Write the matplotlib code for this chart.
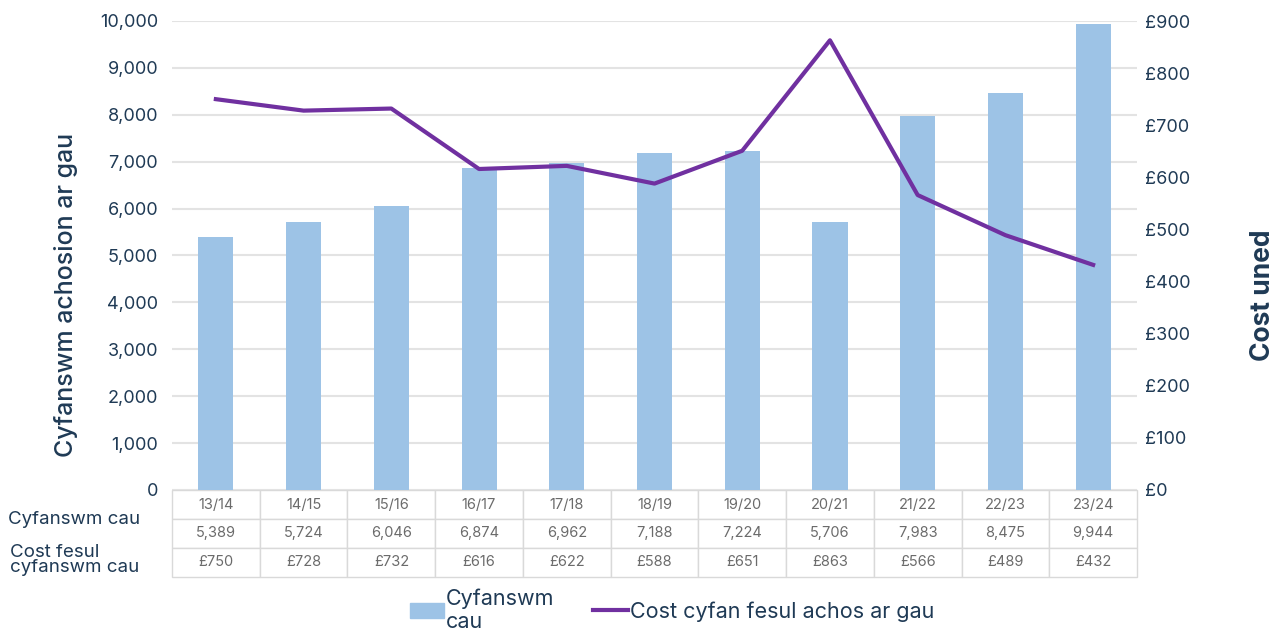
import matplotlib.pyplot as plt
from matplotlib.patches import Patch
from matplotlib.lines import Line2D

plt.rcParams['font.family'] = ['Inter', 'DejaVu Sans']

years = ['13/14', '14/15', '15/16', '16/17', '17/18', '18/19', '19/20',
         '20/21', '21/22', '22/23', '23/24']
total_closed = [5389, 5724, 6046, 6874, 6962, 7188, 7224, 5706, 7983, 8475, 9944]
unit_cost = [750, 728, 732, 616, 622, 588, 651, 863, 566, 489, 432]

navy = '#1f3a55'
bar_col = '#9dc3e6'
line_col = '#7030a0'

fig = plt.figure(figsize=(12.83, 6.36), dpi=100)
ax = fig.add_axes([172 / 1283, 1 - 490 / 636, (1137 - 172) / 1283, (490 - 21) / 636])
x = list(range(len(years)))

ax.bar(x, total_closed, width=0.4, color=bar_col, zorder=2)
ax.set_xlim(-0.5, len(years) - 0.5)
ax.set_ylim(0, 10000)
ax.set_yticks(range(0, 10001, 1000))
ax.set_yticklabels([f'{v:,}' for v in range(0, 10001, 1000)])
ax.set_xticks([])
ax.grid(axis='y', color='#e3e3e3', linewidth=1.5, zorder=0)
for s in ax.spines.values():
    s.set_visible(False)
ax.tick_params(axis='y', length=0, pad=10, labelsize=13, labelcolor=navy)
ax.set_ylabel('Cyfanswm achosion ar gau', fontsize=18, color=navy, fontweight='medium')
ax.yaxis.set_label_coords(-0.097, 0.416)

ax2 = ax.twinx()
ax2.plot(x, unit_cost, color=line_col, linewidth=3, zorder=3)
ax2.set_ylim(0, 900)
ax2.set_yticks(range(0, 901, 100))
ax2.set_yticklabels([f'£{v}' for v in range(0, 901, 100)])
for s in ax2.spines.values():
    s.set_visible(False)
ax2.tick_params(axis='y', length=0, pad=6, labelsize=13, labelcolor=navy)
ax2.set_ylabel('Cost uned', fontsize=19, color=navy, fontweight='bold', rotation=90)
ax2.yaxis.set_label_coords(1.117, 0.416)

# data table under the chart
cell_text = [years, [f'{v:,}' for v in total_closed], [f'£{v}' for v in unit_cost]]
tbl = ax.table(cellText=cell_text, cellLoc='center', bbox=[0, -87 / 469, 1, 87 / 469])
tbl.auto_set_font_size(False)
for (r, c), cell in tbl.get_celld().items():
    cell.set_edgecolor('#d9d9d9')
    cell.set_linewidth(1)
    cell.get_text().set_color('#6b6b6b')
    cell.get_text().set_fontsize(10.5)

fig.text(8 / 1283, 1 - 520 / 636, 'Cyfanswm cau', fontsize=13.5, color=navy, va='center', ha='left')
fig.text(10 / 1283, 1 - 560 / 636, 'Cost fesul\ncyfanswm cau', fontsize=13.5, color=navy,
         va='center', ha='left', linespacing=0.8)

handles = [Patch(color=bar_col), Line2D([0], [0], color=line_col, linewidth=3)]
fig.legend(handles, ['Cyfanswm\ncau', 'Cost cyfan fesul achos ar gau'], loc='center',
           bbox_to_anchor=(672 / 1283, 1 - 610 / 636), ncol=2, frameon=False, fontsize=15.5,
           labelcolor=navy, handlelength=1.6, handletextpad=0.1, columnspacing=1.8)

fig.savefig('out.png', dpi=100)
